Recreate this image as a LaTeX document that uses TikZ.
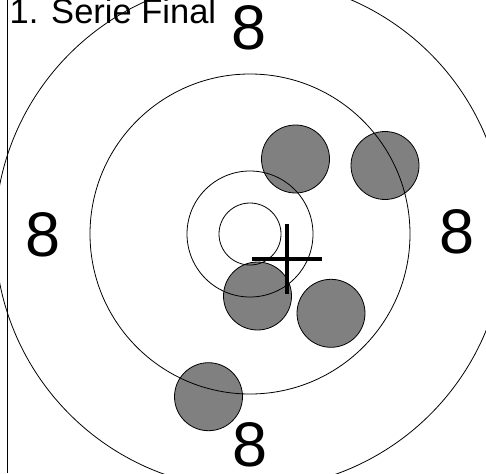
\documentclass[tikz,border=0pt]{standalone}
\usepackage{fontspec}
\setmainfont{Liberation Sans}
\usetikzlibrary{calc}
\begin{document}
\begin{tikzpicture}[x=1pt,y=-1pt,
  ring/.style={draw=black,line width=0.8pt},
  shot/.style={draw=black,line width=0.8pt,fill=shotgray},
  eight/.style={font=\fontsize{63}{63}\selectfont,inner sep=0pt,anchor=base},
  crossbar/.style={line width=4pt}]
\definecolor{shotgray}{RGB}{128,128,128}
\useasboundingbox (0,0) rectangle (486,473);
\clip (0,0) rectangle (486,473);
\fill[white] (0,0) rectangle (486,473);
\coordinate (c) at (250,234);
% shots
\fill[shot] (295.5,159) circle (34);
\fill[shot] (385,165.5) circle (34);
\fill[shot] (257.5,296) circle (34);
\fill[shot] (331,313.3) circle (34);
\fill[shot] (208.5,396.7) circle (34);
% rings
\draw[ring] (c) circle (31);
\draw[ring] (c) circle (63);
\draw[ring] (c) circle (160);
\draw[ring] (c) circle (255);
% cross
\coordinate (x) at (286.5,259);
\draw[crossbar] ($(x)+(-35,0)$) -- ($(x)+(35,0)$);
\draw[crossbar] ($(x)+(0,-35)$) -- ($(x)+(0,35)$);
% vertical line
\draw[line width=1.6pt] (7.5,0) -- (7.5,473);
% labels
\node[font=\fontsize{34.5}{34.5}\selectfont,inner sep=0pt,anchor=base west] (title) at (9.5,23.3) {1. Serie Final};
\node[eight] (t8) at (249,50) {8};
\node[eight] (l8) at (43.3,256) {8};
\node[eight] (r8) at (457,253.5) {8};
\node[eight] (b8) at (250,466) {8};
\end{tikzpicture}
\end{document}
